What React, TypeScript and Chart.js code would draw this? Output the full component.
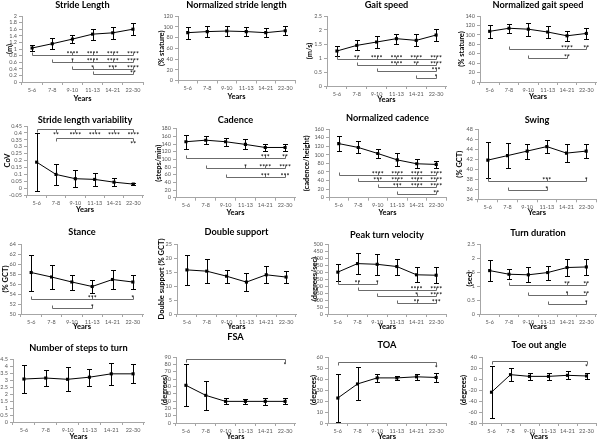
import React, { useEffect, useRef } from "react";
import { Chart, registerables } from "chart.js";

Chart.register(...registerables);

const categories = ["5-6", "7-8", "9-10", "11-13", "14-21", "22-30"];

// ---- data (mean and standard deviation per age group) ----
const strideLengthMean = [1.03, 1.16, 1.3, 1.45, 1.49, 1.6];
const strideLengthSD = [0.09, 0.16, 0.13, 0.17, 0.18, 0.18];
const normStrideMean = [89, 91, 92, 91, 89, 92.5];
const normStrideSD = [11, 10, 9, 8, 8.5, 8.5];
const gaitSpeedMean = [1.25, 1.45, 1.57, 1.69, 1.63, 1.82];
const gaitSpeedSD = [0.18, 0.18, 0.21, 0.18, 0.21, 0.22];
const normGaitMean = [107.5, 114, 112, 106, 98, 103];
const normGaitSD = [14, 10, 14, 13, 11, 11.5];
const strideVarMean = [0.188, 0.099, 0.068, 0.063, 0.043, 0.029];
const strideVarSD = [0.21, 0.078, 0.06, 0.05, 0.03, 0.006];
const cadenceMean = [146, 150, 146, 139, 131, 131];
const cadenceSD = [18, 10, 11, 13, 10, 10];
const normCadenceMean = [126, 117, 103, 88, 79, 77.5];
const normCadenceSD = [18, 14, 10, 15, 10, 9];
const swingMean = [41.8, 42.7, 43.6, 44.5, 43.2, 43.6];
const swingSD = [3.6, 2.45, 1.5, 1.3, 1.8, 1.4];
const stanceMean = [58.3, 57.4, 56.4, 55.5, 56.9, 56.4];
const stanceSD = [3.6, 2.4, 1.5, 1.35, 1.85, 1.4];
const doubleSupportMean = [15.75, 15.3, 13.5, 11.4, 14, 13.2];
const doubleSupportSD = [5.4, 4.4, 2.3, 3.1, 3.1, 2.2];
const peakTurnMean = [299, 360, 355, 339, 280, 277];
const peakTurnSD = [60, 73, 75, 57, 53, 56];
const turnDurationMean = [1.55, 1.42, 1.4, 1.48, 1.66, 1.68];
const turnDurationSD = [0.37, 0.18, 0.27, 0.25, 0.29, 0.3];
const stepsToTurnMean = [3.07, 3.14, 3.05, 3.2, 3.44, 3.44];
const stepsToTurnSD = [1.0, 0.6, 0.87, 0.6, 0.8, 0.67];
const fsaMean = [51.4, 37.7, 29.5, 29.5, 29.5, 29.5];
const fsaSD = [28.5, 19.5, 4, 3, 4.5, 4];
const toaMean = [22.7, 35.5, 41, 41, 42, 41.4];
const toaSD = [21.5, 15, 3.5, 2, 3, 4];
const toeOutMean = [-24, 7.9, 4.8, 4.8, 6.7, 5.5];
const toeOutSD = [47, 12, 7, 6, 7, 6];

// ---- significance brackets: start group, height (axis units), marks per group ----
type Sig = { from: number; y: number; marks: string[]; down?: boolean };
const strideLengthSig: Sig[] = [
  { from: 0, y: 0.81, marks: ["", "", "****", "****", "****", "****"] },
  { from: 1, y: 0.61, marks: ["", "", "*", "****", "****", "****"] },
  { from: 2, y: 0.4, marks: ["", "", "", "*", "***", "****"] },
  { from: 3, y: 0.23, marks: ["", "", "", "", "", "**"] },
];
const gaitSpeedSig: Sig[] = [
  { from: 0, y: 0.95, marks: ["", "**", "****", "****", "****", "****"] },
  { from: 1, y: 0.74, marks: ["", "", "", "****", "**", "****"] },
  { from: 2, y: 0.52, marks: ["", "", "", "", "", "***"] },
  { from: 4, y: 0.3, marks: ["", "", "", "", "", "*"] },
];
const normGaitSig: Sig[] = [
  { from: 1, y: 70, marks: ["", "", "", "", "****", "**"] },
  { from: 2, y: 50, marks: ["", "", "", "", "**", ""] },
];
const strideVarSig: Sig[] = [
  { from: 0, y: 0.425, marks: ["", "**", "****", "****", "****", "****"], down: true },
  { from: 1, y: 0.36, marks: ["", "", "", "", "", "**"], down: true },
];
const cadenceSig: Sig[] = [
  { from: 0, y: 103, marks: ["", "", "", "", "***", "**"] },
  { from: 1, y: 78, marks: ["", "", "", "*", "****", "****"] },
  { from: 2, y: 55, marks: ["", "", "", "", "***", "***"] },
];
const normCadenceSig: Sig[] = [
  { from: 0, y: 53, marks: ["", "", "****", "****", "****", "****"] },
  { from: 1, y: 39, marks: ["", "", "***", "****", "****", "****"] },
  { from: 2, y: 24, marks: ["", "", "", "***", "****", "****"] },
  { from: 3, y: 8.5, marks: ["", "", "", "", "", "**"] },
];
const swingSig: Sig[] = [
  { from: 0, y: 37.65, marks: ["", "", "", "***", "", "*"] },
  { from: 1, y: 35.85, marks: ["", "", "", "*", "", ""] },
];
const stanceSig: Sig[] = [
  { from: 0, y: 53.1, marks: ["", "", "", "***", "", "*"] },
  { from: 1, y: 51.2, marks: ["", "", "", "*", "", ""] },
];
const peakTurnSig: Sig[] = [
  { from: 0, y: 213, marks: ["", "**", "*", "", "", ""] },
  { from: 1, y: 168, marks: ["", "", "", "", "****", "****"] },
  { from: 2, y: 126, marks: ["", "", "", "", "*", "****"] },
  { from: 3, y: 78, marks: ["", "", "", "", "**", "***"] },
];
const turnDurationSig: Sig[] = [
  { from: 1, y: 1.02, marks: ["", "", "", "", "**", "**"] },
  { from: 2, y: 0.67, marks: ["", "", "", "", "*", "**"] },
  { from: 3, y: 0.36, marks: ["", "", "", "", "", "*"] },
];
const fsaSig: Sig[] = [{ from: 0, y: 87, marks: ["", "", "", "", "", "*"], down: true }];
const toaSig: Sig[] = [{ from: 0, y: 55.5, marks: ["", "", "", "", "", "*"], down: true }];
const toeOutSig: Sig[] = [{ from: 0, y: 32, marks: ["", "", "", "", "", "*"], down: true }];

// ---- layout (page pixels) ----
interface Panel {
  title: string;
  yTitle: string;
  mean: number[];
  sd: number[];
  min: number;
  max: number;
  step: number;
  sig: Sig[];
  cell: [number, number, number, number];
  plot: [number, number, number, number];
  titleY: number;
  yTitleX: number;
  yearsY: number;
}

const panels: Panel[] = [
  { title: "Stride Length", yTitle: "(m)", mean: strideLengthMean, sd: strideLengthSD, min: 0, max: 2, step: 0.2, sig: strideLengthSig,
    cell: [0, 0, 150, 110], plot: [22, 16, 143, 82], titleY: 5, yTitleX: 10, yearsY: 99 },
  { title: "Normalized stride length", yTitle: "(% stature)", mean: normStrideMean, sd: normStrideSD, min: 0, max: 120, step: 20, sig: [],
    cell: [150, 0, 150, 110], plot: [178, 16, 295, 80.5], titleY: 5, yTitleX: 162, yearsY: 97 },
  { title: "Gait speed", yTitle: "(m/s)", mean: gaitSpeedMean, sd: gaitSpeedSD, min: 0, max: 2.5, step: 0.5, sig: gaitSpeedSig,
    cell: [300, 0, 150, 110], plot: [327, 16, 447, 86], titleY: 5, yTitleX: 310, yearsY: 100 },
  { title: "Normalized gait speed", yTitle: "(% stature)", mean: normGaitMean, sd: normGaitSD, min: 0, max: 140, step: 20, sig: normGaitSig,
    cell: [450, 0, 150, 110], plot: [480, 16, 598, 82], titleY: 5, yTitleX: 462, yearsY: 97 },

  { title: "Stride length variability", yTitle: "CoV", mean: strideVarMean, sd: strideVarSD, min: -0.05, max: 0.45, step: 0.05, sig: strideVarSig,
    cell: [0, 110, 150, 110], plot: [27, 126, 143, 195], titleY: 120, yTitleX: 8, yearsY: 210 },
  { title: "Cadence", yTitle: "(steps/min)", mean: cadenceMean, sd: cadenceSD, min: 0, max: 180, step: 20, sig: cadenceSig,
    cell: [150, 110, 150, 110], plot: [176, 128.7, 295, 197.7], titleY: 120, yTitleX: 159, yearsY: 213 },
  { title: "Normalized cadence", yTitle: "(cadence/height)", mean: normCadenceMean, sd: normCadenceSD, min: 0, max: 160, step: 20, sig: normCadenceSig,
    cell: [300, 110, 150, 110], plot: [329, 129, 447, 197.7], titleY: 118, yTitleX: 307, yearsY: 213 },
  { title: "Swing", yTitle: "(% GCT)", mean: swingMean, sd: swingSD, min: 34, max: 48, step: 2, sig: swingSig,
    cell: [450, 110, 150, 110], plot: [478, 129, 599, 199.3], titleY: 120, yTitleX: 460, yearsY: 213 },

  { title: "Stance", yTitle: "(% GCT)", mean: stanceMean, sd: stanceSD, min: 50, max: 64, step: 2, sig: stanceSig,
    cell: [0, 220, 150, 110], plot: [21, 244, 143, 314], titleY: 232, yTitleX: 6, yearsY: 327 },
  { title: "Double support", yTitle: "Double support (% GCT)", mean: doubleSupportMean, sd: doubleSupportSD, min: 0, max: 25, step: 5, sig: [],
    cell: [150, 220, 150, 110], plot: [177, 244, 296, 314], titleY: 232, yTitleX: 162, yearsY: 327 },
  { title: "Peak turn velocity", yTitle: "(degrees/sec)", mean: peakTurnMean, sd: peakTurnSD, min: 0, max: 500, step: 50, sig: peakTurnSig,
    cell: [300, 220, 150, 110], plot: [328, 244, 447, 314], titleY: 235, yTitleX: 315, yearsY: 327 },
  { title: "Turn duration", yTitle: "(sec)", mean: turnDurationMean, sd: turnDurationSD, min: 0, max: 2.5, step: 0.5, sig: turnDurationSig,
    cell: [450, 220, 150, 110], plot: [480, 244, 599, 314], titleY: 233, yTitleX: 470, yearsY: 327 },

  { title: "Number of steps to turn", yTitle: "", mean: stepsToTurnMean, sd: stepsToTurnSD, min: 0, max: 4.5, step: 0.5, sig: [],
    cell: [0, 330, 150, 111], plot: [13, 359, 144, 422], titleY: 348, yTitleX: 0, yearsY: 437 },
  { title: "FSA", yTitle: "(degrees)", mean: fsaMean, sd: fsaSD, min: 0, max: 90, step: 10, sig: fsaSig,
    cell: [150, 330, 150, 111], plot: [176, 357, 295, 423], titleY: 337, yTitleX: 165, yearsY: 437 },
  { title: "TOA", yTitle: "(degrees)", mean: toaMean, sd: toaSD, min: 0, max: 60, step: 10, sig: toaSig,
    cell: [300, 330, 150, 111], plot: [328, 357, 447, 423], titleY: 345, yTitleX: 314, yearsY: 437 },
  { title: "Toe out angle", yTitle: "(degrees)", mean: toeOutMean, sd: toeOutSD, min: -80, max: 40, step: 20, sig: toeOutSig,
    cell: [450, 330, 150, 111], plot: [482, 357, 599, 423], titleY: 345, yTitleX: 464, yearsY: 437 },
];

const FONT = "Lato, 'Open Sans', sans-serif";
const AXIS_COLOR = "#a6a6a6";
const TICK_COLOR = "#595959";
const BRACKET_COLOR = "#6b6b6b";

const extrasPlugin = {
  id: "gaitExtras",
  afterDatasetsDraw(chart: any, _args: any, opts: any) {
    const { ctx } = chart;
    const x = chart.scales.x;
    const y = chart.scales.y;
    const mean: number[] = opts.mean || [];
    const sd: number[] = opts.sd || [];
    const sig: Sig[] = opts.sig || [];
    ctx.save();
    ctx.lineWidth = 1;
    ctx.strokeStyle = "#000";
    mean.forEach((m, i) => {
      const px = Math.round(x.getPixelForValue(i)) + 0.5;
      const top = Math.round(y.getPixelForValue(m + sd[i])) + 0.5;
      const bot = Math.round(y.getPixelForValue(m - sd[i])) + 0.5;
      ctx.beginPath();
      ctx.moveTo(px, top);
      ctx.lineTo(px, bot);
      ctx.moveTo(px - 2.5, top);
      ctx.lineTo(px + 2.5, top);
      ctx.moveTo(px - 2.5, bot);
      ctx.lineTo(px + 2.5, bot);
      ctx.stroke();
    });
    sig.forEach((b) => {
      let last = b.from;
      b.marks.forEach((mk, i) => {
        if (mk) last = i;
      });
      const py = Math.round(y.getPixelForValue(b.y)) + 0.5;
      const dir = b.down ? 1 : -1;
      const x0 = Math.round(x.getPixelForValue(b.from)) + 0.5;
      const x1 = Math.round(x.getPixelForValue(last)) + 0.5;
      ctx.strokeStyle = BRACKET_COLOR;
      ctx.beginPath();
      ctx.moveTo(x0, py + dir * 3);
      ctx.lineTo(x0, py);
      ctx.lineTo(x1, py);
      ctx.lineTo(x1, py + dir * 3);
      b.marks.forEach((mk, i) => {
        if (mk && i !== last) {
          const xi = Math.round(x.getPixelForValue(i)) + 0.5;
          ctx.moveTo(xi, py);
          ctx.lineTo(xi, py + dir * 3);
        }
      });
      ctx.stroke();
      ctx.fillStyle = "#000";
      ctx.font = `7px ${FONT}`;
      ctx.textAlign = "center";
      ctx.textBaseline = "alphabetic";
      b.marks.forEach((mk, i) => {
        if (!mk) return;
        const xi = x.getPixelForValue(i);
        ctx.fillText(mk, xi, b.down ? py + 8 : py + 1.5);
      });
    });
    ctx.restore();
  },
};

function fmt(v: number) {
  return String(parseFloat(Number(v).toFixed(4)));
}

function makeConfig(p: Panel): any {
  const [cx, cy, cw, ch] = p.cell;
  const [pl, pt, pr, pb] = p.plot;
  const titleSize = 9.2;
  const titlePadTop = Math.max(0, p.titleY - cy - titleSize / 2);
  const titlePadBottom = Math.max(0, pt - cy - titlePadTop - titleSize);
  const axTitleSize = 7.5;
  const yTitlePad = Math.max(0, p.yTitleX - cx - axTitleSize / 2);
  const xTitlePad = Math.max(0, cy + ch - p.yearsY - axTitleSize / 2);
  const zeroPad = (s: any) => {
    s.paddingLeft = 0;
    s.paddingRight = 0;
    s.paddingTop = 0;
    s.paddingBottom = 0;
  };
  return {
    type: "line",
    data: {
      labels: categories,
      datasets: [
        {
          data: p.mean,
          borderColor: "#000",
          borderWidth: 1,
          pointStyle: "rect",
          pointRadius: 2.2,
          pointBackgroundColor: "#000",
          pointBorderColor: "#000",
          pointBorderWidth: 0,
          tension: 0,
          fill: false,
        },
      ],
    },
    options: {
      animation: false,
      responsive: false,
      devicePixelRatio: 1,
      events: [],
      layout: { padding: { left: 0, top: 0, right: cx + cw - pr, bottom: 0 } },
      plugins: {
        legend: { display: false },
        tooltip: { enabled: false },
        title: {
          display: true,
          text: p.title,
          fullSize: false,
          color: "#000",
          font: { family: FONT, size: titleSize, weight: "bold", lineHeight: 1 },
          padding: { top: titlePadTop, bottom: titlePadBottom },
        },
        gaitExtras: { mean: p.mean, sd: p.sd, sig: p.sig },
      },
      scales: {
        x: {
          type: "category",
          offset: true,
          grid: { display: true, drawOnChartArea: false, drawTicks: true, tickLength: 3, offset: true, color: AXIS_COLOR },
          border: { display: true, color: AXIS_COLOR, width: 1 },
          ticks: { color: TICK_COLOR, font: { family: FONT, size: 5.5, lineHeight: 1 }, padding: 2, autoSkip: false, minRotation: 0, maxRotation: 0 },
          title: {
            display: true,
            text: "Years",
            color: "#000",
            font: { family: FONT, size: axTitleSize, weight: "bold", lineHeight: 1 },
            padding: { top: 0, bottom: xTitlePad },
          },
          afterFit: (s: any) => {
            s.height = cy + ch - pb;
            zeroPad(s);
          },
        },
        y: {
          type: "linear",
          min: p.min,
          max: p.max,
          grid: { display: true, drawOnChartArea: false, drawTicks: true, tickLength: 3, color: AXIS_COLOR },
          border: { display: true, color: AXIS_COLOR, width: 1 },
          ticks: { stepSize: p.step, color: TICK_COLOR, font: { family: FONT, size: 5.5, lineHeight: 1 }, padding: 2, autoSkip: false, callback: (v: any) => fmt(v) },
          title: {
            display: !!p.yTitle,
            text: p.yTitle,
            color: "#000",
            font: { family: FONT, size: axTitleSize, weight: "bold", lineHeight: 1 },
            padding: { top: yTitlePad, bottom: 0 },
          },
          afterFit: (s: any) => {
            s.width = pl - cx;
            zeroPad(s);
          },
        },
      },
    },
    plugins: [extrasPlugin],
  };
}

function PanelChart({ p }: { p: Panel }) {
  const ref = useRef<HTMLCanvasElement>(null);
  useEffect(() => {
    if (!ref.current) return;
    const chart = new Chart(ref.current, makeConfig(p));
    return () => chart.destroy();
  }, [p]);
  const [x, y, w, h] = p.cell;
  return (
    <canvas
      ref={ref}
      width={w}
      height={h}
      style={{ position: "absolute", left: x, top: y, width: w, height: h, display: "block" }}
    />
  );
}

export default function App() {
  return (
    <div style={{ position: "fixed", left: 0, top: 0, width: 600, height: 441, background: "#fff", overflow: "hidden" }}>
      {panels.map((p, i) => (
        <PanelChart key={i} p={p} />
      ))}
    </div>
  );
}
